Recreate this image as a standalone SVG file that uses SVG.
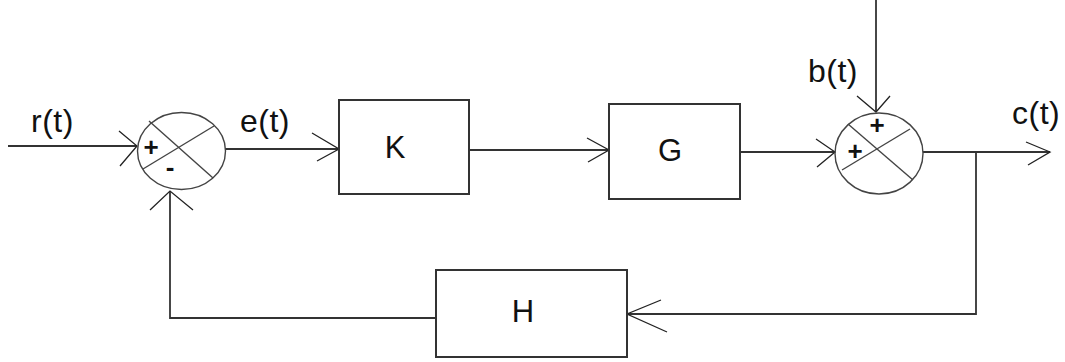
<svg xmlns="http://www.w3.org/2000/svg" width="1065" height="362" viewBox="0 0 1065 362">
<style>
.box{fill:#fff;stroke:#333;stroke-width:2}
.sum{fill:none;stroke:#444;stroke-width:1.4}
.ln{fill:none;stroke:#333;stroke-width:1.8}
.ah{fill:none;stroke:#222;stroke-width:1.3}
.lbl{font-family:"Liberation Sans",Arial,sans-serif;font-size:32px;fill:#111;letter-spacing:0.5px}
.blk{font-family:"Liberation Sans",Arial,sans-serif;font-size:31px;fill:#111;text-anchor:middle}
.sg{font-family:"Liberation Sans",Arial,sans-serif;font-size:26px;font-weight:bold;fill:#111;text-anchor:middle}
</style>
<rect width="1065" height="362" fill="#fff"/>
<g id="connectors">
<line class="ln" x1="8" y1="146" x2="137" y2="146"/>
<polyline class="ah" points="119,131 137,146 120,166"/>
<line class="ln" x1="225" y1="149" x2="339" y2="149"/>
<polyline class="ah" points="312,133 339,149 317,161"/>
<line class="ln" x1="469" y1="150" x2="609" y2="150"/>
<polyline class="ah" points="587,138 609,150 588,162"/>
<line class="ln" x1="740" y1="152" x2="835" y2="152"/>
<polyline class="ah" points="816,139 835,152 817,167"/>
<line class="ln" x1="876" y1="0" x2="876" y2="112"/>
<polyline class="ah" points="857,96 876,112 890,96"/>
<line class="ln" x1="923" y1="152" x2="1050" y2="152"/>
<polyline class="ah" points="1026,142 1050,152 1028,165"/>
<polyline class="ln" points="976,152 976,314 627,314"/>
<polyline class="ah" points="661,300 627,314 667,332"/>
<polyline class="ln" points="436,318 170,318 170,191"/>
<polyline class="ah" points="150,210 170,191 193,210"/>
</g>
<g id="sum1">
<ellipse class="sum" cx="181.5" cy="151" rx="44" ry="38.5"/>
<line class="sum" x1="149" y1="121" x2="213" y2="178"/>
<line class="sum" x1="143" y1="169" x2="214" y2="126"/>
<text class="sg" x="151" y="156">+</text>
<text class="sg" x="170" y="176">-</text>
</g>
<g id="sum2">
<ellipse class="sum" cx="879" cy="153.5" rx="44" ry="40.5"/>
<line class="sum" x1="848" y1="124" x2="913" y2="180"/>
<line class="sum" x1="842" y1="170" x2="910" y2="129"/>
<text class="sg" x="877" y="134">+</text>
<text class="sg" x="855" y="160">+</text>
</g>
<g id="K">
<rect class="box" x="339" y="100" width="130" height="94"/>
<text class="blk" x="395" y="158">K</text>
</g>
<g id="G">
<rect class="box" x="609" y="104" width="131" height="95"/>
<text class="blk" x="670" y="161">G</text>
</g>
<g id="H">
<rect class="box" x="436" y="270" width="191" height="87"/>
<text class="blk" x="523" y="322">H</text>
</g>
<g id="labels">
<text class="lbl" x="31" y="132">r(t)</text>
<text class="lbl" x="240" y="132">e(t)</text>
<text class="lbl" x="808" y="82">b(t)</text>
<text class="lbl" x="1012" y="124">c(t)</text>
</g>
</svg>
